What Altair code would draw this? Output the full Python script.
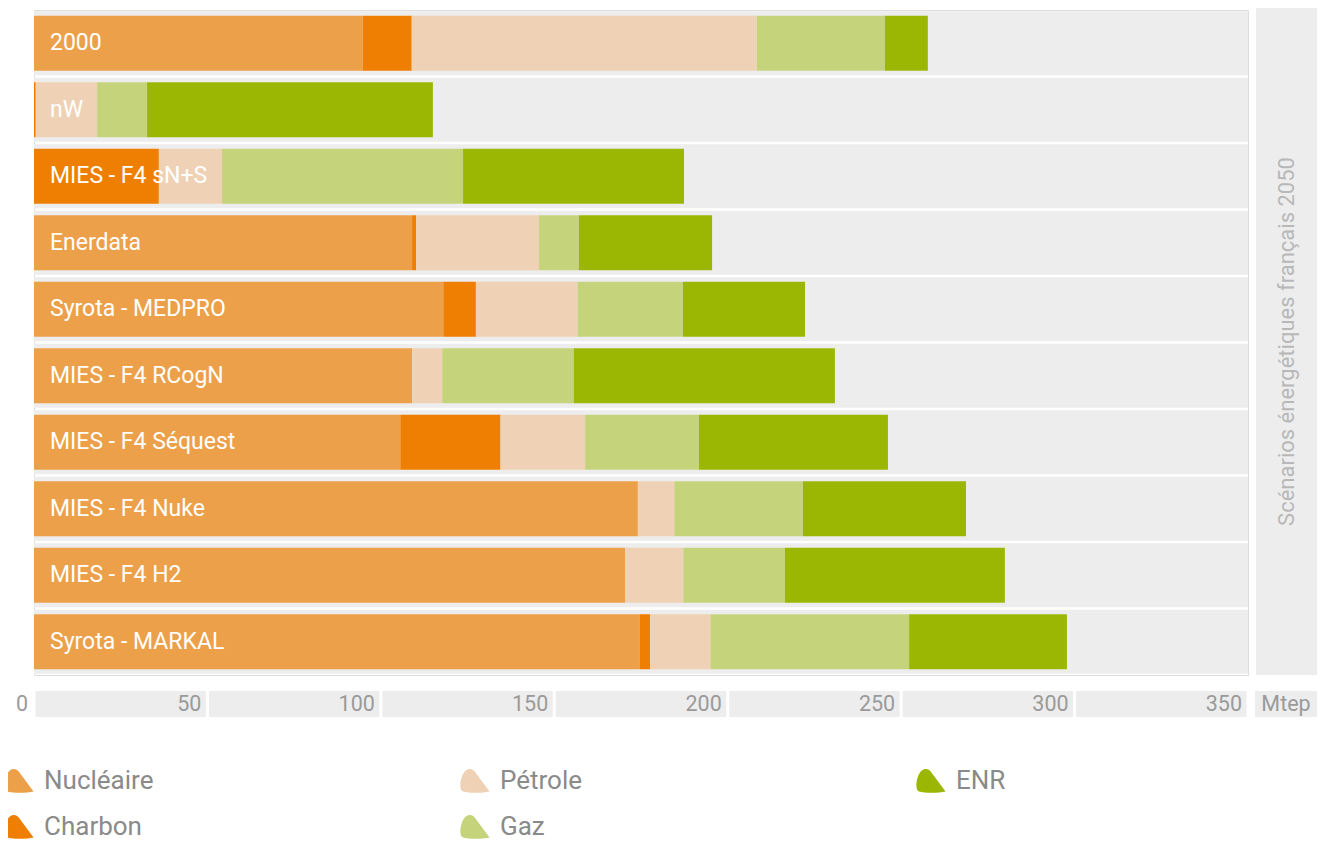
import altair as alt
import pandas as pd

# ---------------- data ----------------
scenarios = ["2000", "nW", "MIES - F4 sN+S", "Enerdata", "Syrota - MEDPRO",
             "MIES - F4 RCogN", "MIES - F4 Séquest", "MIES - F4 Nuke",
             "MIES - F4 H2", "Syrota - MARKAL"]
sources = ["Nucléaire", "Charbon", "Pétrole", "Gaz", "ENR"]
nucleaire = [94.8, 0.0, 0.0, 109.0, 118.0, 109.0, 105.6, 174.1, 170.4, 174.7]
charbon = [14.1, 0.5, 36.0, 1.2, 9.4, 0.0, 28.9, 0.0, 0.0, 2.9]
petrole = [99.5, 17.7, 18.2, 35.4, 29.3, 8.7, 24.4, 10.5, 16.8, 17.4]
gaz = [36.9, 14.4, 69.5, 11.5, 30.4, 37.9, 32.8, 37.1, 29.3, 57.3]
enr = [12.4, 82.4, 63.7, 38.4, 35.2, 75.3, 54.5, 47.0, 63.4, 45.5]
source_colors = ["#EDA04A", "#EF7F02", "#EFD2B5", "#C5D47B", "#9CB703"]
tick_values = [0, 50, 100, 150, 200, 250, 300, 350]
tick_labels = ["0", "50", "100", "150", "200", "250", "300", "350"]
unit_label = "Mtep"
side_title = "Scénarios énergétiques français 2050"

# ---------------- tables ----------------
series = [nucleaire, charbon, petrole, gaz, enr]
rows = []
for si, (name, vals) in enumerate(zip(sources, series)):
    for sc, v in zip(scenarios, vals):
        rows.append({"scenario": sc, "source": name, "value": v, "rank": si})
df = pd.DataFrame(rows)
df_sc = pd.DataFrame({"scenario": scenarios})
df_ticks = pd.DataFrame({"tick": tick_values, "label": tick_labels})
df_seg = pd.DataFrame({"start": [t - 50 for t in tick_values[1:]], "end": tick_values[1:]})
df_unit = pd.DataFrame({"t": [unit_label]})
df_side = pd.DataFrame({"t": [side_title]})

W, H = 1214, 665
FONT = "Roboto"
GREY = "#EDEDED"

xscale = alt.Scale(domain=[0, 350], nice=False, zero=True)
yenc = alt.Y("scenario:N", sort=scenarios,
             scale=alt.Scale(domain=scenarios, paddingInner=0, paddingOuter=0),
             axis=None)

leaf = ("M -0.02 -0.65 L 1 0.72 C 0.6 0.82 -0.4 0.85 -0.83 0.72 "
        "C -1.05 0.6 -1.05 0.1 -0.9 -0.3 C -0.75 -0.7 -0.5 -0.85 -0.34 -0.82 "
        "C -0.2 -0.8 -0.1 -0.75 -0.02 -0.65 Z")

bg = alt.Chart(df_sc).mark_bar(size=64, color=GREY).encode(
    y=yenc, x=alt.value(0), x2=alt.value(W))

bars = alt.Chart(df).mark_bar(size=55).encode(
    y=yenc,
    x=alt.X("value:Q", stack="zero", scale=xscale, axis=None),
    color=alt.Color("source:N",
                    scale=alt.Scale(domain=sources, range=source_colors),
                    legend=alt.Legend(orient="none", legendX=-30, legendY=756,
                                      title=None, columns=3, gridAlign="all",
                                      columnPadding=306, rowPadding=18,
                                      symbolType=leaf, symbolSize=850,
                                      symbolStrokeWidth=0, labelOffset=10,
                                      labelFont=FONT, labelFontSize=26,
                                      labelColor="#8a8a8a")),
    order=alt.Order("rank:Q", sort="ascending"),
)

labels = alt.Chart(df_sc).mark_text(align="left", baseline="middle", font=FONT,
                                    fontSize=23, color="white").encode(
    y=yenc, x=alt.value(16), text="scenario:N")

segs = alt.Chart(df_seg).mark_rect(color=GREY, xOffset=1.5, x2Offset=-1.5).encode(
    x=alt.X("start:Q", scale=xscale), x2="end:Q",
    y=alt.value(681), y2=alt.value(707))

tick_text = alt.Chart(df_ticks).mark_text(align="right", baseline="middle", dx=-6,
                                          font=FONT, fontSize=21.5, color="#9a9a9a").encode(
    x=alt.X("tick:Q", scale=xscale), y=alt.value(694.5), text="label:N")

unit_box = alt.Chart(df_unit).mark_rect(color=GREY).encode(
    x=alt.value(1221), x2=alt.value(1286), y=alt.value(681), y2=alt.value(707))
unit_text = alt.Chart(df_unit).mark_text(align="center", baseline="middle", font=FONT,
                                         fontSize=21.5, color="#9a9a9a").encode(
    x=alt.value(1252), y=alt.value(694.5), text="t:N")

side_box = alt.Chart(df_side).mark_rect(color=GREY).encode(
    x=alt.value(1222), x2=alt.value(1286), y=alt.value(-2), y2=alt.value(665))
side_text = alt.Chart(df_side).mark_text(align="center", baseline="middle", angle=270,
                                         font=FONT, fontSize=22, color="#b8b8b8").encode(
    x=alt.value(1253), y=alt.value(331.5), text="t:N")

chart = alt.layer(bg, bars, labels, segs, tick_text, unit_box, unit_text,
                  side_box, side_text).properties(
    width=W, height=H,
    autosize=alt.AutoSizeParams(type="none"),
    padding={"left": 26, "top": 2, "right": 69, "bottom": 168},
).configure_view(stroke=None).configure(font=FONT)

chart.save("out.html", embed_options={"renderer": "svg", "actions": False})
